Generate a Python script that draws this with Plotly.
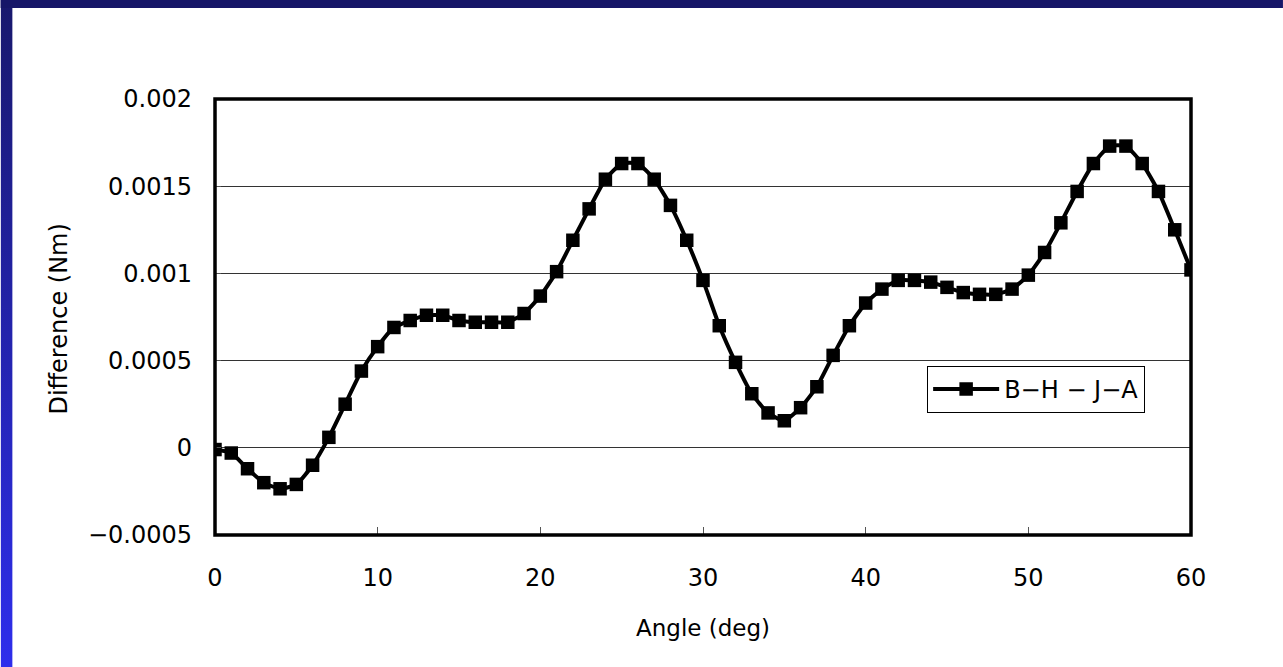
import base64
import plotly.graph_objects as go

# Rotor angle (deg) and torque difference (Nm)
angle = [0, 1, 2, 3, 4, 5, 6, 7, 8, 9,
         10, 11, 12, 13, 14, 15, 16, 17, 18, 19,
         20, 21, 22, 23, 24, 25, 26, 27, 28, 29,
         30, 31, 32, 33, 34, 35, 36, 37, 38, 39,
         40, 41, 42, 43, 44, 45, 46, 47, 48, 49,
         50, 51, 52, 53, 54, 55, 56, 57, 58, 59, 60]
difference = [-0.00001, -0.00003, -0.00012, -0.0002, -0.000235, -0.00021, -0.0001, 0.00006, 0.00025, 0.00044,
              0.00058, 0.00069, 0.00073, 0.00076, 0.00076, 0.00073, 0.00072, 0.00072, 0.00072, 0.00077,
              0.00087, 0.00101, 0.00119, 0.00137, 0.00154, 0.00163, 0.00163, 0.00154, 0.00139, 0.00119,
              0.00096, 0.0007, 0.00049, 0.00031, 0.0002, 0.000155, 0.00023, 0.00035, 0.00053, 0.0007,
              0.00083, 0.00091, 0.00096, 0.00096, 0.00095, 0.00092, 0.00089, 0.00088, 0.00088, 0.00091,
              0.00099, 0.00112, 0.00129, 0.00147, 0.00163, 0.00173, 0.00173, 0.00163, 0.00147, 0.00125, 0.00102]
series_name = "B\u2212H \u2212 J\u2212A"

y_tickvals = [-0.0005, 0, 0.0005, 0.001, 0.0015, 0.002]
y_ticktext = ["\u22120.0005", "0", "0.0005", "0.001", "0.0015", "0.002"]
x_tickvals = [0, 10, 20, 30, 40, 50, 60]
x_ticktext = ["0", "10", "20", "30", "40", "50", "60"]

FONT = "DejaVu Sans"

# page geometry (pixels)
W, H = 1283, 667
L, R, T, B = 214.5, 1191, 99, 535


def px(xp):
    return (xp - L) / (R - L)


def py(yp):
    return (B - yp) / (B - T)


fig = go.Figure()
fig.add_trace(go.Scatter(
    x=angle, y=difference, name=series_name,
    mode="lines+markers",
    line=dict(color="black", width=4, shape="spline", smoothing=0.5),
    marker=dict(symbol="square", size=13.5, color="black"),
))

# vertical gradient strip for the left edge
grad_svg = (
    '<svg xmlns="http://www.w3.org/2000/svg" width="12" height="667" '
    'preserveAspectRatio="none" viewBox="0 0 12 667">'
    '<defs><linearGradient id="g" x1="0" y1="0" x2="0" y2="1">'
    '<stop offset="0" stop-color="rgb(24,24,108)"/>'
    '<stop offset="1" stop-color="rgb(46,46,236)"/>'
    '</linearGradient></defs>'
    '<rect x="0" y="0" width="12" height="667" fill="url(#g)"/></svg>'
)
grad_uri = "data:image/svg+xml;base64," + base64.b64encode(grad_svg.encode()).decode()

shapes = [
    # dark bar along the top edge
    dict(type="rect", xref="paper", yref="paper",
         x0=px(0), x1=px(W), y0=py(8), y1=py(0),
         fillcolor="rgb(22,22,104)", line=dict(width=0), layer="below"),
    # plot frame
    dict(type="rect", xref="paper", yref="paper",
         x0=0, x1=1, y0=0, y1=1,
         line=dict(color="black", width=3.5), layer="above"),
]

fig.update_layout(
    width=W, height=H,
    margin=dict(l=L, r=W - R, t=T, b=H - B, pad=0),
    paper_bgcolor="white", plot_bgcolor="white",
    font=dict(family=FONT, size=24, color="black"),
    showlegend=True,
    legend=dict(x=px(927), y=py(366), xanchor="left", yanchor="top",
                bgcolor="white", bordercolor="black", borderwidth=1,
                font=dict(family=FONT, size=24, color="black"),
                itemwidth=66, tracegroupgap=0),
    shapes=shapes,
    images=[dict(source=grad_uri, xref="paper", yref="paper",
                 x=px(0), y=py(0), sizex=px(12) - px(0), sizey=py(0) - py(H),
                 xanchor="left", yanchor="top", sizing="stretch", layer="below")],
    annotations=[
        dict(text="Angle (deg)", xref="paper", yref="paper",
             x=px(703), y=py(628), xanchor="center", yanchor="middle",
             showarrow=False, font=dict(family=FONT, size=23)),
        dict(text="Difference (Nm)", xref="paper", yref="paper",
             x=px(58), y=py(319), xanchor="center", yanchor="middle",
             textangle=-90, showarrow=False, font=dict(family=FONT, size=24)),
    ],
)

fig.update_xaxes(range=[0, 60], tickvals=x_tickvals, ticktext=x_ticktext,
                 ticks="inside", ticklen=8, tickwidth=1, tickcolor="#555",
                 showgrid=False, zeroline=False, showline=False,
                 ticklabelstandoff=26, tickfont=dict(size=24))
fig.update_yaxes(range=[-0.0005, 0.002], tickvals=y_tickvals, ticktext=y_ticktext,
                 ticks="inside", ticklen=6, tickwidth=1, tickcolor="#555",
                 showgrid=True, gridcolor="#333", gridwidth=1,
                 zeroline=False, showline=False,
                 ticklabelstandoff=22, tickfont=dict(size=24))

fig.write_html("out.html")
